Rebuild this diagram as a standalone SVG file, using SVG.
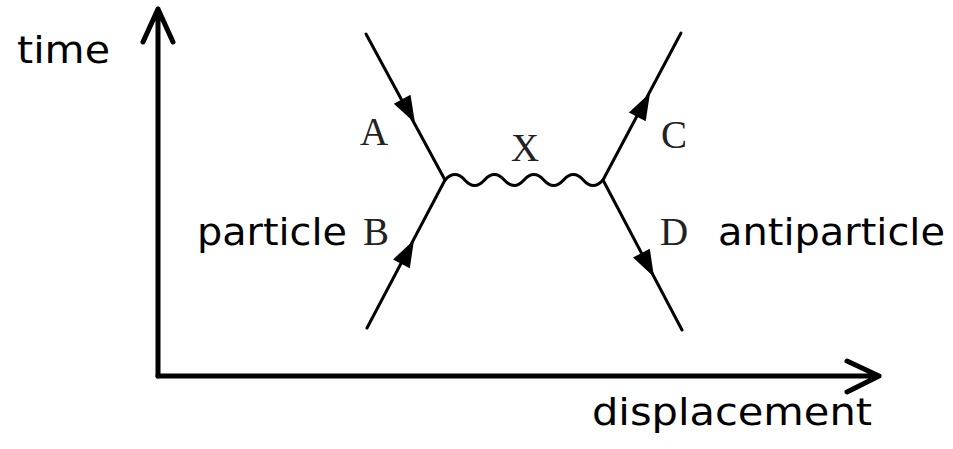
<svg xmlns="http://www.w3.org/2000/svg" xmlns:xlink="http://www.w3.org/1999/xlink" width="953" height="449" viewBox="0 0 953 449">
<style>
.axis{stroke:#000;stroke-width:5;fill:none;stroke-linecap:round;stroke-linejoin:round}
.prop{stroke:#000;stroke-width:3;fill:none;stroke-linecap:round}
.head{fill:#000}
.hand{font-family:"DejaVu Sans","Open Sans",sans-serif;font-size:38px;fill:#000}
.lbl{font-family:"Liberation Serif","Times New Roman",serif;font-size:39px;fill:#222}
</style>
<defs>
<path id="ah" d="M0,0 L-27,-9.5 L-27,9.5 Z"/>
</defs>
<rect width="953" height="449" fill="#fff"/>
<g id="axes">
<path class="axis" d="M158,376 L158,9 M143,42 L158,9 L173,42"/>
<path class="axis" d="M158,376 L879,376 M847,361 L879,376 L847,392"/>
</g>
<g id="connectors">
<path id="lineA" class="prop" d="M366,34 L445,180"/>
<path id="lineB" class="prop" d="M367,328 L445,180"/>
<path id="lineC" class="prop" d="M603,180 L681,33"/>
<path id="lineD" class="prop" d="M603,180 L682,330"/>
<path id="wave" class="prop" d="M445,180 q9.875,-11 19.75,0 t19.75,0 t19.75,0 t19.75,0 t19.75,0 t19.75,0 t19.75,0 t19.75,0"/>
<use xlink:href="#ah" class="head" transform="translate(415,123) rotate(61.6)"/>
<use xlink:href="#ah" class="head" transform="translate(414,240) rotate(-62.2)"/>
<use xlink:href="#ah" class="head" transform="translate(650,93) rotate(-62)"/>
<use xlink:href="#ah" class="head" transform="translate(654,277) rotate(62.2)"/>
</g>
<g id="labels">
<text class="lbl" x="360" y="145">A</text>
<text class="lbl" x="525" y="161" text-anchor="middle">X</text>
<text class="lbl" x="661" y="148">C</text>
<text class="lbl" x="363" y="245">B</text>
<text class="lbl" x="660" y="245">D</text>
</g>
<g id="texts">
<text class="hand" x="17" y="63" textLength="93" lengthAdjust="spacingAndGlyphs">time</text>
<text class="hand" x="197" y="245" textLength="150" lengthAdjust="spacingAndGlyphs">particle</text>
<text class="hand" x="718" y="245" textLength="227" lengthAdjust="spacingAndGlyphs">antiparticle</text>
<text class="hand" x="592" y="425" textLength="280" lengthAdjust="spacingAndGlyphs">displacement</text>
</g>
</svg>
